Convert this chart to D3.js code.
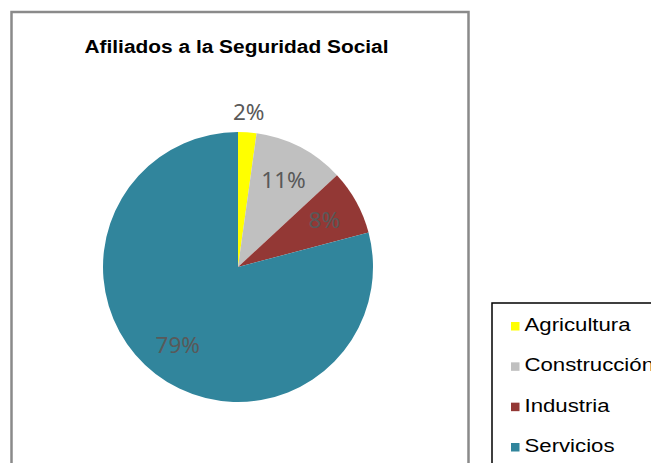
<!DOCTYPE html>
<html>
<head>
<meta charset="utf-8">
<script src="https://cdn.jsdelivr.net/npm/d3@7"></script>
<style>
  html, body { margin: 0; padding: 0; background: #fff; }
  svg { display: block; }
</style>
</head>
<body>
<div id="chart"></div>
<script>
// afiliados a la seguridad social por sector

const titulo     = "Afiliados a la Seguridad Social";
const sectores   = ["Agricultura", "Construcción", "Industria", "Servicios"];
const afiliados  = [2.2, 10.9, 7.8, 79.1];
const colores    = ["#ffff00", "#c0c0c0", "#933835", "#31859c"];

const W = 651, H = 463;
const cx = 238, cy = 267, radio = 135;

const svg = d3.select("#chart")
  .append("svg")
  .attr("width", W)
  .attr("height", H);

// marco del grafico
svg.append("rect")
  .attr("x", 11.5)
  .attr("y", 12)
  .attr("width", 457)
  .attr("height", 500)
  .attr("fill", "#fff")
  .attr("stroke", "#8a8a8a")
  .attr("stroke-width", 2.5);

// titulo (texto algo ensanchado, como en el original)
svg.append("text")
  .attr("transform", "translate(236.5,53) scale(1.13,1)")
  .attr("text-anchor", "middle")
  .attr("font-family", "'Liberation Sans', Arial, sans-serif")
  .attr("font-weight", "bold")
  .attr("font-size", "18.5px")
  .attr("fill", "#000")
  .text(titulo);

const datos = sectores.map((s, i) => ({ sector: s, valor: afiliados[i], color: colores[i] }));
const total = d3.sum(afiliados);

const pie = d3.pie()
  .sort(null)
  .value(d => d.valor);

const arc = d3.arc()
  .innerRadius(0)
  .outerRadius(radio);

const arcos = pie(datos);

const g = svg.append("g")
  .attr("transform", `translate(${cx},${cy})`);

g.selectAll("path")
  .data(arcos)
  .enter()
  .append("path")
  .attr("d", arc)
  .attr("fill", d => d.data.color);

// etiquetas: las porciones pequeñas van fuera
g.selectAll(".etiqueta")
  .data(arcos)
  .enter()
  .append("text")
  .attr("class", "etiqueta")
  .attr("transform", d => {
    const pct = d.data.valor / total;
    const r = pct < 0.05 ? radio * 1.155 : radio * 0.73;
    const a = (d.startAngle + d.endAngle) / 2;
    return `translate(${Math.sin(a) * r},${-Math.cos(a) * r})`;
  })
  .attr("dy", "0.36em")
  .attr("text-anchor", "middle")
  .attr("font-family", "'Noto Sans', 'Open Sans', sans-serif")
  .attr("font-size", "22.5px")
  .attr("fill", "#595959")
  .text(d => Math.round(d.data.valor / total * 100) + "%");

// leyenda
svg.append("rect")
  .attr("x", 492)
  .attr("y", 303)
  .attr("width", 200)
  .attr("height", 200)
  .attr("fill", "#fff")
  .attr("stroke", "#000")
  .attr("stroke-width", 1.5);

const yLeyenda = d3.scalePoint()
  .domain(sectores)
  .range([331, 452]);

const items = svg.selectAll(".item")
  .data(datos)
  .enter()
  .append("g")
  .attr("class", "item")
  .attr("transform", d => `translate(0,${yLeyenda(d.sector)})`);

items.append("rect")
  .attr("x", 511)
  .attr("y", -9)
  .attr("width", 8.5)
  .attr("height", 8.5)
  .attr("fill", d => d.color);

items.append("text")
  .attr("transform", "translate(524.5,0) scale(1.2,1)")
  .attr("font-family", "'Liberation Sans', Arial, sans-serif")
  .attr("font-size", "18.5px")
  .attr("fill", "#000")
  .text(d => d.sector);
</script>
</body>
</html>
